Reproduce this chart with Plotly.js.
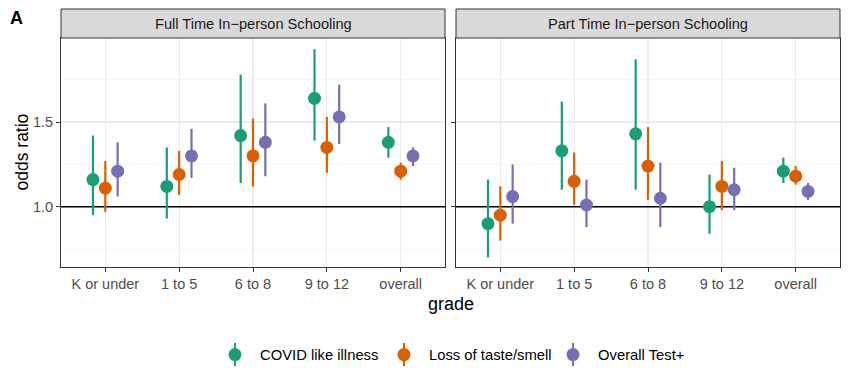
<!DOCTYPE html>
<html>
<head>
<meta charset="utf-8">
<script src="https://cdn.plot.ly/plotly-3.0.1.min.js"></script>
<style>html,body{margin:0;padding:0;background:#fff;}#chart{width:850px;height:380px;}</style>
</head>
<body>
<div id="chart"></div>
<script>
const grades = ["K or under", "1 to 5", "6 to 8", "9 to 12", "overall"];
const seriesNames = ["COVID like illness", "Loss of taste/smell", "Overall Test+"];
const panelTitles = ["Full Time In\u2212person Schooling", "Part Time In\u2212person Schooling"];
const referenceOR = 1.0;

// Full time in-person schooling
const ftCovidOR = [1.16, 1.12, 1.42, 1.64, 1.38];
const ftCovidLo = [0.95, 0.93, 1.14, 1.39, 1.29];
const ftCovidHi = [1.42, 1.35, 1.78, 1.93, 1.47];
const ftTasteOR = [1.11, 1.19, 1.30, 1.35, 1.21];
const ftTasteLo = [0.97, 1.07, 1.12, 1.20, 1.16];
const ftTasteHi = [1.27, 1.33, 1.52, 1.53, 1.26];
const ftTestOR = [1.21, 1.30, 1.38, 1.53, 1.30];
const ftTestLo = [1.06, 1.17, 1.18, 1.37, 1.24];
const ftTestHi = [1.38, 1.46, 1.61, 1.72, 1.35];

// Part time in-person schooling
const ptCovidOR = [0.90, 1.33, 1.43, 1.00, 1.21];
const ptCovidLo = [0.70, 1.10, 1.10, 0.84, 1.14];
const ptCovidHi = [1.16, 1.62, 1.87, 1.19, 1.29];
const ptTasteOR = [0.95, 1.15, 1.24, 1.12, 1.18];
const ptTasteLo = [0.80, 1.01, 1.04, 0.98, 1.13];
const ptTasteHi = [1.12, 1.32, 1.47, 1.27, 1.24];
const ptTestOR = [1.06, 1.01, 1.05, 1.10, 1.09];
const ptTestLo = [0.90, 0.88, 0.88, 0.98, 1.04];
const ptTestHi = [1.25, 1.16, 1.26, 1.23, 1.14];

const colors = ["#1B9E77", "#D95F02", "#7570B3"];
const panels = [
  [[ftCovidOR, ftCovidLo, ftCovidHi], [ftTasteOR, ftTasteLo, ftTasteHi], [ftTestOR, ftTestLo, ftTestHi]],
  [[ptCovidOR, ptCovidLo, ptCovidHi], [ptTasteOR, ptTasteLo, ptTasteHi], [ptTestOR, ptTestLo, ptTestHi]]
];
const dodge = 0.167;
const xRange = [0.4, 5.6];
const FONT = "Liberation Sans, Arial, sans-serif";

const traces = [];
// reference line at OR = 1, drawn first so the points sit on top of it
["x", "x2"].forEach((xa, p) => {
  traces.push({
    type: "scatter", mode: "lines", x: xRange, y: [referenceOR, referenceOR],
    xaxis: xa, yaxis: p === 0 ? "y" : "y2", showlegend: false, hoverinfo: "skip",
    line: { color: "#000", width: 1.6 }, cliponaxis: false
  });
});
panels.forEach((panel, p) => {
  panel.forEach((s, k) => {
    const [or, lo, hi] = s;
    traces.push({
      type: "scatter", mode: "markers",
      name: seriesNames[k],
      legendgroup: seriesNames[k],
      showlegend: p === 0,
      x: grades.map((g, i) => i + 1 + (k - 1) * dodge),
      y: or,
      xaxis: p === 0 ? "x" : "x2",
      yaxis: p === 0 ? "y" : "y2",
      marker: { color: colors[k], size: 13 },
      error_y: {
        type: "data", symmetric: false,
        array: or.map((v, i) => hi[i] - v),
        arrayminus: or.map((v, i) => v - lo[i]),
        color: colors[k], thickness: 2.2, width: 0
      },
      hoverinfo: "skip"
    });
  });
});

const W = 850, H = 380;
const dom1 = [61 / W, 445 / W], dom2 = [456 / W, 840 / W];
const ydom = [1 - 267 / H, 1 - 38 / H];
const stripTop = 1 - 9 / H;

const xbase = {
  range: xRange, tickmode: "array", tickvals: [1, 2, 3, 4, 5], ticktext: grades,
  showgrid: true, gridcolor: "#EBEBEB", gridwidth: 1.1, zeroline: false,
  showline: true, mirror: true, linecolor: "#333333", linewidth: 1,
  ticks: "outside", ticklen: 4, tickcolor: "#333333", tickwidth: 1,
  tickfont: { family: FONT, size: 14.5, color: "#4D4D4D" },
  fixedrange: true
};
const ybase = {
  range: [0.644, 1.996], tickmode: "array", tickvals: [1.0, 1.5], ticktext: ["1.0", "1.5"],
  showgrid: true, gridcolor: "#EBEBEB", gridwidth: 1.1, zeroline: false,
  minor: { tickmode: "array", tickvals: [0.75, 1.25, 1.75], showgrid: true, gridcolor: "#F2F2F2", gridwidth: 0.6, ticks: "" },
  showline: true, mirror: true, linecolor: "#333333", linewidth: 1,
  ticks: "outside", ticklen: 4, tickcolor: "#333333", tickwidth: 1,
  tickfont: { family: FONT, size: 14.5, color: "#4D4D4D" },
  fixedrange: true, domain: ydom
};

const layout = {
  width: W, height: H,
  margin: { l: 0, r: 0, t: 0, b: 0 },
  paper_bgcolor: "#FFFFFF", plot_bgcolor: "#FFFFFF",
  font: { family: FONT, color: "#000" },
  xaxis: Object.assign({}, xbase, { domain: dom1, anchor: "y" }),
  xaxis2: Object.assign({}, xbase, { domain: dom2, anchor: "y2" }),
  yaxis: Object.assign({}, ybase, { anchor: "x" }),
  yaxis2: Object.assign({}, ybase, { anchor: "x2", matches: "y", showticklabels: false }),
  showlegend: true,
  legend: {
    orientation: "h", x: 220 / W, xanchor: "left", y: 1 - 355 / H, yanchor: "middle",
    entrywidth: 124, entrywidthmode: "pixels",
    font: { size: 14.8, color: "#000" }, bgcolor: "rgba(0,0,0,0)", itemclick: false
  },
  shapes: [
    { type: "rect", xref: "paper", yref: "paper", x0: dom1[0], x1: dom1[1], y0: ydom[1], y1: stripTop, fillcolor: "#D9D9D9", line: { color: "#333333", width: 1 } },
    { type: "rect", xref: "paper", yref: "paper", x0: dom2[0], x1: dom2[1], y0: ydom[1], y1: stripTop, fillcolor: "#D9D9D9", line: { color: "#333333", width: 1 } }
  ],
  annotations: [
    { xref: "paper", yref: "paper", x: (dom1[0] + dom1[1]) / 2, y: (ydom[1] + stripTop) / 2, text: panelTitles[0], showarrow: false, font: { size: 14.6, color: "#1A1A1A" }, xanchor: "center", yanchor: "middle" },
    { xref: "paper", yref: "paper", x: (dom2[0] + dom2[1]) / 2, y: (ydom[1] + stripTop) / 2, text: panelTitles[1], showarrow: false, font: { size: 14.6, color: "#1A1A1A" }, xanchor: "center", yanchor: "middle" },
    { xref: "paper", yref: "paper", x: (dom1[0] + dom2[1]) / 2, y: 1 - 304 / H, text: "grade", showarrow: false, font: { size: 18, color: "#000" }, xanchor: "center", yanchor: "middle" },
    { xref: "paper", yref: "paper", x: 21 / W, y: (ydom[0] + ydom[1]) / 2, text: "odds ratio", textangle: -90, showarrow: false, font: { size: 17.5, color: "#000" }, xanchor: "center", yanchor: "middle" },
    { xref: "paper", yref: "paper", x: 8 / W, y: 1 - 18.5 / H, text: "<b>A</b>", showarrow: false, font: { size: 18, color: "#000" }, xanchor: "left", yanchor: "middle" }
  ]
};

Plotly.newPlot("chart", traces, layout, { displayModeBar: false, staticPlot: true }).then(() => {
  // add the vertical interval line through each legend key, as in the reference
  const ns = "http://www.w3.org/2000/svg";
  document.querySelectorAll("#chart .legend .traces").forEach((tr, i) => {
    const lp = tr.querySelector(".legendpoints");
    if (!lp) return;
    lp.setAttribute("transform", "translate(-5,0)");
    const path = document.createElementNS(ns, "path");
    path.setAttribute("d", "M20,-11.5V11.5");
    path.setAttribute("stroke", colors[i % colors.length]);
    path.setAttribute("stroke-width", "2");
    path.setAttribute("fill", "none");
    lp.insertBefore(path, lp.firstChild);
    const pt = lp.querySelector("path.point");
    if (pt) pt.setAttribute("transform", "translate(20,0) scale(0.85)");
  });
});
</script>
</body>
</html>
